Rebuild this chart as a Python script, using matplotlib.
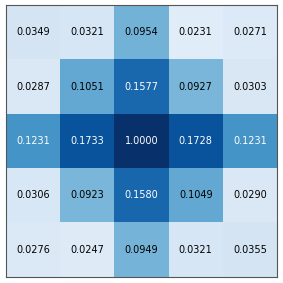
import matplotlib
matplotlib.use("Agg")
import matplotlib.pyplot as plt
import numpy as np

weights = np.array([
    [0.0349, 0.0321, 0.0954, 0.0231, 0.0271],
    [0.0287, 0.1051, 0.1577, 0.0927, 0.0303],
    [0.1231, 0.1733, 1.0000, 0.1728, 0.1231],
    [0.0306, 0.0923, 0.1580, 0.1049, 0.0290],
    [0.0276, 0.0247, 0.0949, 0.0321, 0.0355],
])

fig = plt.figure(figsize=(2.83, 2.83), dpi=100)
ax = fig.add_axes([6 / 283, 6 / 283, 271 / 283, 272 / 283])
ax.imshow(weights, cmap="Blues", vmin=0.0, vmax=0.2, aspect="auto")
for i in range(weights.shape[0]):
    for j in range(weights.shape[1]):
        val = weights[i, j]
        color = "white" if val > 0.115 else "black"
        ax.text(j, i, f"{val:.4f}", ha="center", va="center", fontsize=7, color=color)
ax.set_xticks([])
ax.set_yticks([])
for spine in ax.spines.values():
    spine.set_color("#555555")
fig.savefig("out.png", dpi=100)
